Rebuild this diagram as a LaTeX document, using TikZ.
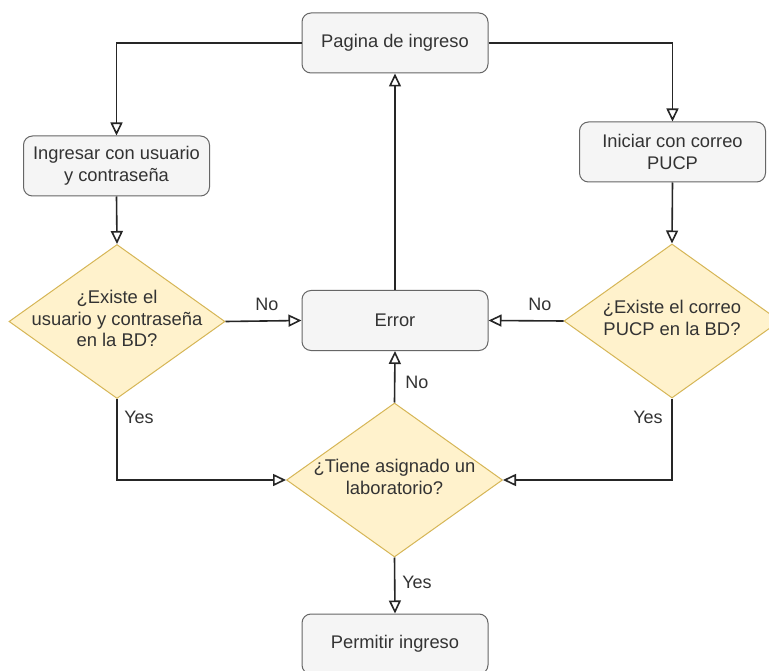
\documentclass[tikz,border=0pt]{standalone}
\usepackage{fontspec}
\setmainfont{Liberation Sans}
\usetikzlibrary{shapes.geometric,arrows.meta}
\definecolor{boxfill}{HTML}{F5F5F5}
\definecolor{boxdraw}{HTML}{666666}
\definecolor{diafill}{HTML}{FFF2CC}
\definecolor{diadraw}{HTML}{D6B656}
\definecolor{textc}{HTML}{333333}
\tikzset{
  box/.style={rectangle, rounded corners=9pt, minimum width=186pt, minimum height=60pt,
    fill=boxfill, draw=boxdraw, line width=1pt, text=textc, align=center, inner sep=0pt,
    font=\fontsize{18.3}{22}\selectfont},
  dia/.style={diamond, fill=diafill, draw=diadraw, line width=1pt, inner sep=0pt,
    minimum width=216pt, minimum height=154pt},
  diatext/.style={text=textc, align=center, inner sep=0pt, font=\fontsize{18.4}{21.8}\selectfont},
  lbl/.style={text=textc, inner sep=0pt, font=\fontsize{18}{20}\selectfont},
  arr/.style={draw=black!85, line width=1.6pt, -{Triangle[open, length=13pt, width=12pt]}}
}
\begin{document}
\begin{tikzpicture}[x=1pt,y=-1pt]
\useasboundingbox (0,0) rectangle (769,671);
\clip (0,0) rectangle (769,671);
\fill[white] (0,0) rectangle (769,671);
% nodes
\node[box] (pag) at (395,43) {Pagina de ingreso};
\node[box] (ing) at (116.5,166) {Ingresar con usuario\\y contraseña};
\node[box] (ini) at (672.5,152) {Iniciar con correo\\PUCP};
\node[box] (err) at (395,320.5) {Error};
\node[box] (per) at (395,644) {Permitir ingreso};
\node[dia] (d1) at (117,321.5) {};
\node[dia] (d2) at (672,321) {};
\node[dia] (d3) at (394.5,480) {};
\node[diatext] (t1) at (117,318.5) {¿Existe el\\usuario y contraseña\\en la BD?};
\node[diatext] (t2) at (672,318) {¿Existe el correo\\PUCP en la BD?};
\node[diatext] (t3) at (394.5,477) {¿Tiene asignado un\\laboratorio?};
% connectors
\draw[arr] (pag.west) -| (ing.north);
\draw[arr] (pag.east) -| (ini.north);
\draw[arr] (ing.south) -- (d1.north);
\draw[arr] (ini.south) -- (d2.north);
\draw[arr] (d1.east) -- (err.west);
\draw[arr] (d2.west) -- (err.east);
\draw[arr] (err.north) -- (pag.south);
\draw[arr] (d3.north) -- (err.south);
\draw[arr] (d1.south) |- (d3.west);
\draw[arr] (d2.south) |- (d3.east);
\draw[arr] (d3.south) -- (per.north);
% labels
\node[lbl] (l1) at (267,304) {No};
\node[lbl] (l2) at (540,304) {No};
\node[lbl] (l3) at (417,382) {No};
\node[lbl] (l4) at (139,417) {Yes};
\node[lbl] (l5) at (648,417) {Yes};
\node[lbl] (l6) at (417,582) {Yes};
\end{tikzpicture}
\end{document}
